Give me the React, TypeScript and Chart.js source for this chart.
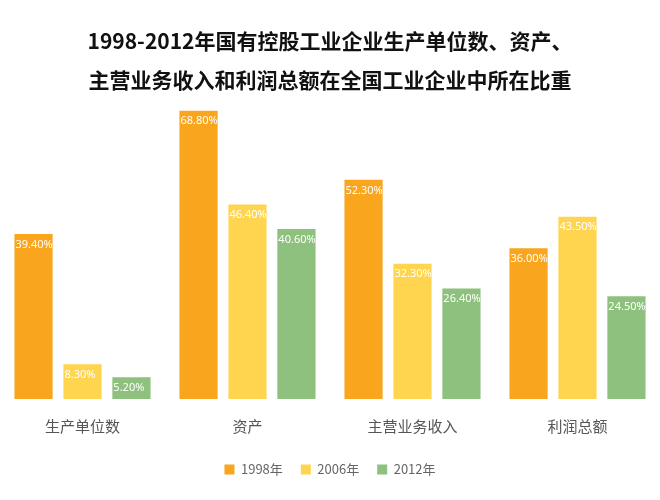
import React, { useEffect, useRef } from "react";
import { Chart, registerables } from "chart.js";
Chart.register(...registerables);

const categories = ["生产单位数", "资产", "主营业务收入", "利润总额"];
const s1998 = [39.4, 68.8, 52.3, 36.0];
const s2006 = [8.3, 46.4, 32.3, 43.5];
const s2012 = [5.2, 40.6, 26.4, 24.5];
const seriesNames = ["1998年", "2006年", "2012年"];
const colors = ["#F9A51E", "#FFD550", "#8EC07E"];

const labelPlugin = {
  id: "lbl",
  afterDatasetsDraw(chart: any) {
    const ctx = chart.ctx;
    ctx.save();
    ctx.font = "11px 'Noto Sans', sans-serif";
    ctx.fillStyle = "#ffffff";
    ctx.textBaseline = "top";
    ctx.textAlign = "left";
    chart.data.datasets.forEach((ds: any, i: number) => {
      chart.getDatasetMeta(i).data.forEach((bar: any, j: number) => {
        ctx.fillText(ds.data[j].toFixed(2) + "%", bar.x - bar.width / 2 + 1, bar.y + 5);
      });
    });
    ctx.restore();
  },
};

export default function App() {
  const ref = useRef<HTMLCanvasElement>(null);
  useEffect(() => {
    const chart = new Chart(ref.current!, {
      type: "bar",
      data: {
        labels: categories,
        datasets: [s1998, s2006, s2012].map((d, i) => ({
          label: seriesNames[i],
          data: d,
          backgroundColor: colors[i],
          categoryPercentage: 0.89,
          barPercentage: 0.78,
        })),
      },
      options: {
        animation: false,
        responsive: false,
        layout: { padding: { left: 0, right: 0, bottom: 6 } },
        plugins: {
          title: {
            display: true,
            text: ["1998-2012年国有控股工业企业生产单位数、资产、", "主营业务收入和利润总额在全国工业企业中所在比重"],
            font: { size: 21, weight: "bold", family: "'Noto Sans CJK SC', sans-serif", lineHeight: 1.85 },
            color: "#111",
            padding: { top: 14, bottom: 6 },
          },
          legend: {
            position: "bottom",
            labels: { boxWidth: 10, boxHeight: 10, color: "#666", font: { size: 13, family: "'Noto Sans CJK SC', sans-serif" }, padding: 18 },
          },
          tooltip: { enabled: false },
        },
        scales: {
          x: {
            grid: { display: false },
            border: { display: false },
            ticks: { color: "#555", font: { size: 15, family: "'Noto Sans CJK SC', sans-serif" }, padding: 10 },
          },
          y: { display: false, min: 0, max: 70 },
        },
      },
      plugins: [labelPlugin],
    });
    return () => chart.destroy();
  }, []);
  return <canvas ref={ref} width={660} height={484} style={{ display: "block", marginLeft: -8 }} />;
}
